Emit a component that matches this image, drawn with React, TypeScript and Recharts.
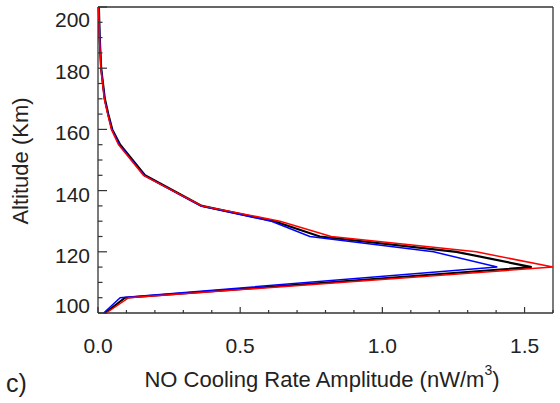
import { ScatterChart, Scatter, XAxis, YAxis } from "recharts";

// altitude levels (km) and NO cooling rate amplitude (nW/m^3) for the three runs
const altitudes = [100, 105, 115, 120, 125, 130, 135, 145, 155, 160, 165, 170, 180, 190, 200];
const blackVals = [0.025, 0.095, 1.525, 1.26, 0.78, 0.62, 0.365, 0.165, 0.078, 0.05, 0.036, 0.024, 0.011, 0.006, 0.003];
const blueVals = [0.02, 0.078, 1.404, 1.18, 0.745, 0.61, 0.36, 0.162, 0.075, 0.049, 0.035, 0.023, 0.011, 0.006, 0.003];
const redVals = [0.029, 0.108, 1.6, 1.33, 0.82, 0.64, 0.365, 0.16, 0.072, 0.047, 0.034, 0.022, 0.01, 0.005, 0.002];

const xTicks = [0, 0.1, 0.2, 0.3, 0.4, 0.5, 0.6, 0.7, 0.8, 0.9, 1.0, 1.1, 1.2, 1.3, 1.4, 1.5, 1.6];
const yTicks = [100, 105, 110, 115, 120, 125, 130, 135, 140, 145, 150, 155, 160, 165, 170, 175, 180, 185, 190, 195, 200];

const series = [
  { name: "black", vals: blackVals, color: "#000000", width: 2.2 },
  { name: "blue", vals: blueVals, color: "#0000ff", width: 1.5 },
  { name: "red", vals: redVals, color: "#ff0000", width: 1.5 },
];

const FONT = "'Liberation Sans', Arial, Helvetica, sans-serif";
const AXIS = "#333";
const TEXT = "#222";

const isMajorX = (v: number) => Math.abs(v * 2 - Math.round(v * 2)) < 1e-6;
const isMajorY = (v: number) => v % 20 === 0;

const BottomTick = (p: any) => {
  const v = p.payload.value;
  const major = isMajorX(v) && v < 1.6;
  return (
    <g>
      <line x1={p.x} x2={p.x} y1={p.y} y2={p.y - (major ? 6 : 3)} stroke={AXIS} strokeWidth={1.2} />
      {major && (
        <text x={p.x} y={p.y + 40} textAnchor="middle" fontSize={21} fontFamily={FONT} fill={TEXT}>
          {v.toFixed(1)}
        </text>
      )}
    </g>
  );
};

const TopTick = (p: any) => {
  const v = p.payload.value;
  const major = isMajorX(v);
  return <line x1={p.x} x2={p.x} y1={p.y} y2={p.y + (major ? 6 : 3)} stroke={AXIS} strokeWidth={1.2} />;
};

const LeftTick = (p: any) => {
  const v = p.payload.value;
  const major = isMajorY(v);
  // IDL pushes the end labels inward
  const dy = v === 200 ? 20 : v === 100 ? 0 : 11;
  return (
    <g>
      <line x1={p.x} x2={p.x + (major ? 9 : 4.5)} y1={p.y} y2={p.y} stroke={AXIS} strokeWidth={1.2} />
      {major && (
        <text x={p.x - 8} y={p.y + dy} textAnchor="end" fontSize={21} fontFamily={FONT} fill={TEXT}>
          {v}
        </text>
      )}
    </g>
  );
};

const RightTick = (p: any) => {
  const v = p.payload.value;
  const major = isMajorY(v);
  return <line x1={p.x} x2={p.x - (major ? 9 : 4.5)} y1={p.y} y2={p.y} stroke={AXIS} strokeWidth={1.2} />;
};

export default function App() {
  return (
    <div style={{ position: "absolute", left: 0, top: 0, width: 560, height: 403, background: "#fff" }}>
      <ScatterChart width={560} height={403} margin={{ top: 6, right: 6, bottom: 89, left: 97 }}>
        <XAxis xAxisId="b" dataKey="v" type="number" domain={[0, 1.6]} ticks={xTicks} interval={0}
          height={1} tickSize={0} tickMargin={0} tickLine={false} tick={BottomTick}
          axisLine={{ stroke: AXIS, strokeWidth: 1.3 }} />
        <XAxis xAxisId="t" orientation="top" dataKey="v" type="number" domain={[0, 1.6]} ticks={xTicks} interval={0}
          height={1} tickSize={0} tickMargin={0} tickLine={false} tick={TopTick}
          axisLine={{ stroke: AXIS, strokeWidth: 1.3 }} />
        <YAxis yAxisId="l" dataKey="alt" type="number" domain={[100, 200]} ticks={yTicks} interval={0}
          width={1} tickSize={0} tickMargin={0} tickLine={false} tick={LeftTick}
          axisLine={{ stroke: AXIS, strokeWidth: 1.3 }} />
        <YAxis yAxisId="r" orientation="right" dataKey="alt" type="number" domain={[100, 200]} ticks={yTicks} interval={0}
          width={1} tickSize={0} tickMargin={0} tickLine={false} tick={RightTick}
          axisLine={{ stroke: AXIS, strokeWidth: 1.3 }} />
        {series.map((s) => (
          <Scatter
            key={s.name}
            xAxisId="b"
            yAxisId="l"
            data={altitudes.map((a, i) => ({ alt: a, v: s.vals[i] }))}
            line={{ stroke: s.color, strokeWidth: s.width }}
            shape={() => <g />}
            isAnimationActive={false}
          />
        ))}
      </ScatterChart>
      <svg width={560} height={403} style={{ position: "absolute", left: 0, top: 0, pointerEvents: "none" }}>
        <text x={28} y={161} transform="rotate(-90 28 161)" textAnchor="middle" fontSize={22} fontFamily={FONT} fill={TEXT}>
          Altitude (Km)
        </text>
        <text x={322} y={387} textAnchor="middle" fontSize={22} fontFamily={FONT} fill={TEXT}>
          NO Cooling Rate Amplitude (nW/m
          <tspan dy={-12} fontSize={14}>3</tspan>
          <tspan dy={12}>)</tspan>
        </text>
        <text x={6} y={392} fontSize={25} fontFamily={FONT} fill={TEXT}>
          c)
        </text>
      </svg>
    </div>
  );
}
